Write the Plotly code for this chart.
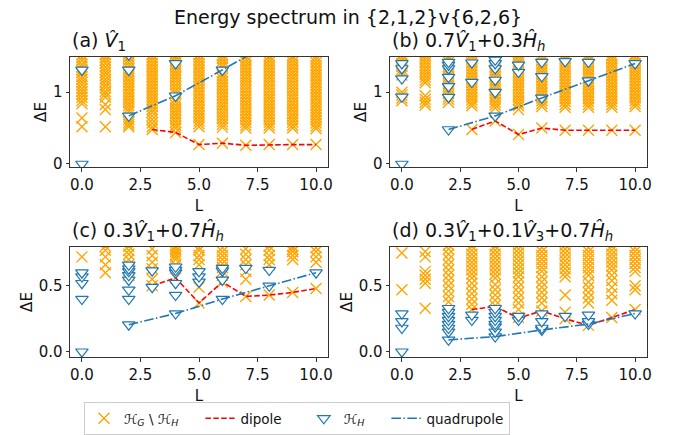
import plotly.graph_objects as go

# ---------------- data ----------------
x_tickvals = [0, 2.5, 5, 7.5, 10]
x_ticktext = ["0.0", "2.5", "5.0", "7.5", "10.0"]
y_top_ticks = [0, 1]
y_top_text = ["0", "1"]
y_bot_ticks = [0, 0.5]
y_bot_text = ["0.0", "0.5"]

# (a) V1 : orange crosses (H_G \ H_H) per L
bg_a = {
    0: [0.52, 0.64, 0.84, 0.88, 0.93, 0.97, 1.01, 1.05, 1.10, 1.14, 1.18, 1.22, 1.27, 1.31, 1.35, 1.39, 1.44, 1.48, 1.52],
    1: [0.52, 0.76, 0.83, 0.93, 0.97, 1.01, 1.06, 1.10, 1.14, 1.18, 1.23, 1.27, 1.31, 1.35, 1.40, 1.44, 1.48, 1.52],
    2: [0.52, 0.55, 0.58, 0.62, 0.73, 0.77, 0.81, 0.85, 0.89, 0.93, 0.97, 1.01, 1.05, 1.09, 1.13, 1.17, 1.21, 1.25, 1.29, 1.33, 1.37, 1.41, 1.45, 1.49, 1.53],
    3: [0.48, 0.52, 0.57, 0.62, 0.67, 0.72, 0.76, 0.80, 0.84, 0.88, 0.92, 0.96, 1.00, 1.04, 1.08, 1.12, 1.16, 1.20, 1.24, 1.28, 1.32, 1.36, 1.40, 1.44, 1.48, 1.52],
    4: [0.44, 0.50, 0.54, 0.58, 0.62, 0.66, 0.70, 0.74, 0.78, 0.82, 0.86, 0.90, 0.98, 1.02, 1.06, 1.10, 1.14, 1.18, 1.22, 1.26, 1.30, 1.34, 1.38, 1.42, 1.46, 1.50, 1.54],
    5: [0.27, 0.52, 0.56, 0.60, 0.64, 0.68, 0.72, 0.76, 0.80, 0.84, 0.88, 0.92, 0.96, 1.00, 1.04, 1.08, 1.12, 1.16, 1.20, 1.24, 1.28, 1.32, 1.36, 1.40, 1.44, 1.48, 1.52],
    6: [0.29, 0.51, 0.55, 0.59, 0.63, 0.67, 0.71, 0.75, 0.79, 0.83, 0.87, 0.91, 0.95, 0.99, 1.03, 1.07, 1.11, 1.15, 1.19, 1.23, 1.27, 1.35, 1.39, 1.43, 1.47, 1.51],
    7: [0.26, 0.50, 0.54, 0.58, 0.62, 0.66, 0.70, 0.74, 0.78, 0.82, 0.86, 0.90, 0.94, 0.98, 1.02, 1.06, 1.10, 1.14, 1.18, 1.22, 1.26, 1.30, 1.34, 1.38, 1.42, 1.46, 1.50],
    8: [0.27, 0.50, 0.54, 0.58, 0.62, 0.66, 0.70, 0.74, 0.78, 0.82, 0.86, 0.90, 0.94, 0.98, 1.02, 1.06, 1.10, 1.14, 1.18, 1.22, 1.26, 1.30, 1.34, 1.38, 1.42, 1.46, 1.50],
    9: [0.27, 0.50, 0.54, 0.58, 0.62, 0.66, 0.70, 0.74, 0.78, 0.82, 0.86, 0.90, 0.94, 0.98, 1.02, 1.06, 1.10, 1.14, 1.18, 1.22, 1.26, 1.30, 1.34, 1.38, 1.42, 1.46, 1.50],
    10: [0.27, 0.49, 0.53, 0.57, 0.61, 0.65, 0.69, 0.73, 0.77, 0.81, 0.85, 0.89, 0.93, 0.97, 1.01, 1.05, 1.09, 1.13, 1.17, 1.21, 1.25, 1.29, 1.33, 1.37, 1.41, 1.45, 1.49],
}
tri_a = {0: [0.0, 1.31], 2: [0.67, 1.31, 1.52], 4: [0.95, 1.40], 6: [1.31]}
dip_L = [3, 4, 5, 6, 7, 8, 9, 10]
dip_a = [0.48, 0.44, 0.27, 0.29, 0.26, 0.27, 0.27, 0.27]
quad_L = [2, 4, 6, 8, 10]
quad_a = [0.67, 0.95, 1.31, 1.69, 2.05]

# (b) 0.7 V1 + 0.3 Hh
bg_b = {
    0: [0.88, 0.92, 0.96, 1.00, 1.24, 1.28, 1.32, 1.36, 1.40, 1.44, 1.48, 1.52],
    1: [0.82, 0.86, 0.90, 0.95, 1.13, 1.17, 1.21, 1.25, 1.29, 1.33, 1.37, 1.41, 1.45, 1.49, 1.53],
    2: [0.86, 0.90, 0.94, 0.98, 1.02, 1.06, 1.10, 1.14, 1.18, 1.22, 1.26, 1.30, 1.34, 1.38, 1.42, 1.46, 1.50],
    3: [0.48, 0.81, 0.85, 0.89, 0.93, 0.97, 1.01, 1.05, 1.09, 1.13, 1.17, 1.21, 1.25, 1.29, 1.33, 1.37, 1.41, 1.45, 1.49, 1.53],
    4: [0.60, 0.78, 0.82, 0.86, 0.90, 0.94, 0.98, 1.02, 1.06, 1.10, 1.14, 1.18, 1.22, 1.26, 1.30, 1.34, 1.38, 1.42, 1.46, 1.50],
    5: [0.41, 0.76, 0.81, 0.85, 0.89, 0.93, 0.97, 1.01, 1.05, 1.09, 1.13, 1.17, 1.21, 1.25, 1.29, 1.33, 1.37, 1.41, 1.45, 1.49, 1.53],
    6: [0.50, 0.80, 0.84, 0.88, 0.92, 0.96, 1.00, 1.04, 1.08, 1.12, 1.16, 1.20, 1.24, 1.28, 1.32, 1.36, 1.40, 1.44, 1.48, 1.52],
    7: [0.47, 0.79, 0.83, 0.87, 0.91, 0.95, 0.99, 1.03, 1.07, 1.11, 1.15, 1.19, 1.23, 1.27, 1.31, 1.35, 1.39, 1.43, 1.47, 1.51],
    8: [0.47, 0.79, 0.83, 0.87, 0.91, 0.95, 0.99, 1.03, 1.07, 1.11, 1.15, 1.19, 1.23, 1.27, 1.31, 1.35, 1.39, 1.43, 1.47, 1.51],
    9: [0.47, 0.79, 0.83, 0.87, 0.91, 0.95, 0.99, 1.03, 1.07, 1.11, 1.15, 1.19, 1.23, 1.27, 1.31, 1.35, 1.39, 1.43, 1.47, 1.51],
    10: [0.47, 0.80, 0.84, 0.88, 0.92, 0.96, 1.00, 1.04, 1.08, 1.12, 1.16, 1.20, 1.24, 1.28, 1.32, 1.36, 1.40, 1.44, 1.48, 1.52],
}
tri_b = {0: [0.0, 0.935, 1.19, 1.33, 1.40], 2: [0.48, 0.93, 1.08, 1.21, 1.33, 1.38, 1.42],
         3: [1.14, 1.41], 4: [0.67, 1.0, 1.17, 1.33, 1.40, 1.45], 5: [1.28, 1.38],
         6: [0.92, 1.22, 1.42], 7: [1.43], 8: [1.16, 1.42], 10: [1.40]}
dip_b = [0.48, 0.60, 0.41, 0.50, 0.47, 0.47, 0.47, 0.47]
quad_b = [0.48, 0.67, 0.92, 1.16, 1.40]

# (c) 0.3 V1 + 0.7 Hh
bg_c = {
    0: [0.72],
    1: [0.60, 0.66, 0.72, 0.77, 0.80],
    2: [0.58, 0.62, 0.66, 0.70, 0.74, 0.77, 0.80],
    3: [0.50, 0.55, 0.63, 0.68, 0.73, 0.78],
    4: [0.56, 0.66, 0.70, 0.72, 0.74, 0.76, 0.78, 0.80],
    5: [0.37, 0.49, 0.66, 0.70, 0.73, 0.77, 0.79],
    6: [0.53, 0.58, 0.61, 0.64, 0.67, 0.70, 0.73, 0.76, 0.79],
    7: [0.42, 0.55, 0.61, 0.66, 0.70, 0.74, 0.78],
    8: [0.43, 0.66, 0.70, 0.73, 0.77, 0.80],
    9: [0.45, 0.70, 0.73, 0.76, 0.78, 0.80],
    10: [0.48, 0.68, 0.72, 0.76, 0.79],
}
tri_c = {0: [0.0, 0.40, 0.52, 0.57, 0.60], 2: [0.205, 0.40, 0.47, 0.545, 0.58, 0.61, 0.63, 0.66],
         3: [0.49, 0.615], 4: [0.29, 0.43, 0.52, 0.60, 0.62, 0.645], 5: [0.53, 0.57, 0.61],
         6: [0.40, 0.545, 0.615, 0.635], 7: [0.635], 8: [0.50, 0.62], 10: [0.60]}
dip_c = [0.50, 0.56, 0.37, 0.53, 0.42, 0.43, 0.45, 0.48]
quad_c = [0.205, 0.29, 0.40, 0.50, 0.60]

# (d) 0.3 V1 + 0.1 V3 + 0.7 Hh
bg_d = {
    0: [0.47, 0.75],
    1: [0.33, 0.52, 0.55, 0.58, 0.61, 0.72, 0.76],
    2: [0.38, 0.42, 0.46, 0.50, 0.54, 0.58, 0.62, 0.66, 0.70, 0.74, 0.78, 0.81],
    3: [0.32, 0.36, 0.40, 0.44, 0.48, 0.52, 0.56, 0.59, 0.62, 0.65, 0.68, 0.71, 0.74, 0.77, 0.80],
    4: [0.35, 0.39, 0.43, 0.47, 0.51, 0.56, 0.59, 0.62, 0.65, 0.68, 0.71, 0.74, 0.77, 0.80],
    5: [0.26, 0.32, 0.37, 0.41, 0.45, 0.49, 0.53, 0.57, 0.60, 0.63, 0.66, 0.69, 0.72, 0.75, 0.78, 0.81],
    6: [0.31, 0.37, 0.41, 0.45, 0.49, 0.53, 0.57, 0.61, 0.64, 0.67, 0.70, 0.73, 0.76, 0.79],
    7: [0.25, 0.30, 0.43, 0.57, 0.60, 0.63, 0.66, 0.69, 0.72, 0.75, 0.78, 0.81],
    8: [0.20, 0.37, 0.41, 0.45, 0.49, 0.53, 0.58, 0.61, 0.64, 0.67, 0.70, 0.73, 0.76, 0.79],
    9: [0.26, 0.39, 0.44, 0.49, 0.54, 0.58, 0.62, 0.65, 0.68, 0.71, 0.74, 0.77, 0.80],
    10: [0.32, 0.47, 0.50, 0.61, 0.64, 0.67, 0.70, 0.73, 0.76, 0.79],
}
tri_d = {0: [0.0, 0.18, 0.23, 0.29], 2: [0.09, 0.15, 0.18, 0.21, 0.24, 0.27, 0.30, 0.33],
         3: [0.24, 0.28], 4: [0.115, 0.15, 0.19, 0.21, 0.24, 0.27, 0.30, 0.33], 5: [0.24, 0.27],
         6: [0.165, 0.18, 0.23, 0.29], 7: [0.27], 8: [0.21, 0.23, 0.28], 10: [0.29]}
dip_d = [0.32, 0.345, 0.255, 0.31, 0.25, 0.20, 0.26, 0.32]
quad_d = [0.09, 0.115, 0.165, 0.21, 0.29]

titles = ["(a) <i>V̂</i><sub>1</sub>",
          "(b) 0.7<i>V̂</i><sub>1</sub>+0.3<i>Ĥ</i><sub><i>h</i></sub>",
          "(c) 0.3<i>V̂</i><sub>1</sub>+0.7<i>Ĥ</i><sub><i>h</i></sub>",
          "(d) 0.3<i>V̂</i><sub>1</sub>+0.1<i>V̂</i><sub>3</sub>+0.7<i>Ĥ</i><sub><i>h</i></sub>"]
legend_names = ["<i>ℋ</i><sub><i>G</i></sub> \\ <i>ℋ</i><sub><i>H</i></sub>", "dipole",
                "<i>ℋ</i><sub><i>H</i></sub>", "quadrupole"]

# ---------------- figure ----------------
ORANGE = "#FFA500"
BLUE = "#1f77b4"
FONT = "DejaVu Sans"
PAD = "&nbsp;" * 4

def flatten(d):
    xs, ys = [], []
    for L, vals in d.items():
        for v in vals:
            xs.append(L)
            ys.append(v)
    return xs, ys

panels = [(bg_a, tri_a, dip_a, quad_a), (bg_b, tri_b, dip_b, quad_b),
          (bg_c, tri_c, dip_c, quad_c), (bg_d, tri_d, dip_d, quad_d)]

fig = go.Figure()
for i, (bg, tri, dip, quad) in enumerate(panels):
    xr = "x" if i == 0 else f"x{i+1}"
    yr = "y" if i == 0 else f"y{i+1}"
    show = i == 0
    bx, by = flatten(bg)
    fig.add_trace(go.Scatter(x=bx, y=by, mode="markers", xaxis=xr, yaxis=yr,
                             name=legend_names[0] + PAD, legendgroup="bg", showlegend=show,
                             marker=dict(symbol="x-thin", size=11, color=ORANGE,
                                         line=dict(color=ORANGE, width=1.4))))
    fig.add_trace(go.Scatter(x=dip_L, y=dip, mode="lines", xaxis=xr, yaxis=yr,
                             name=legend_names[1] + PAD, legendgroup="dip", showlegend=show,
                             line=dict(color="red", width=1.6, dash="5.5px,2.4px")))
    tx, ty = flatten(tri)
    fig.add_trace(go.Scatter(x=tx, y=ty, mode="markers", xaxis=xr, yaxis=yr,
                             name=legend_names[2] + PAD, legendgroup="tri", showlegend=show,
                             marker=dict(symbol="triangle-down", size=11, color="white",
                                         line=dict(color=BLUE, width=1.2))))
    fig.add_trace(go.Scatter(x=quad_L, y=quad, mode="lines", xaxis=xr, yaxis=yr,
                             name=legend_names[3], legendgroup="quad", showlegend=show,
                             line=dict(color=BLUE, width=1.6, dash="9.6px,2.4px,1.5px,2.4px")))

W, H = 673, 435
xdom = [[70 / W, 328 / W], [390 / W, 647 / W]]
ydom = [[1 - 167 / H, 1 - 57 / H], [1 - 357 / H, 1 - 247 / H]]

axis_common = dict(showline=True, linecolor="#333333", linewidth=1, mirror=True,
                   ticks="outside", ticklen=3.5, tickwidth=0.9, tickcolor="#333333",
                   showgrid=False, zeroline=False, automargin=False,
                   tickfont=dict(family=FONT, size=15, color="#111111"))

layout = dict(width=W, height=H, margin=dict(l=0, r=0, t=0, b=0, autoexpand=False),
              paper_bgcolor="white", plot_bgcolor="white",
              font=dict(family=FONT, size=15, color="#111111"))

for i in range(4):
    r, c = divmod(i, 2)
    xk = "xaxis" if i == 0 else f"xaxis{i+1}"
    yk = "yaxis" if i == 0 else f"yaxis{i+1}"
    ya = "y" if i == 0 else f"y{i+1}"
    xa = "x" if i == 0 else f"x{i+1}"
    layout[xk] = dict(axis_common, domain=xdom[c], anchor=ya, range=[-0.51, 10.51],
                      tickvals=x_tickvals, ticktext=x_ticktext,
                      title=dict(text="L", font=dict(family=FONT, size=15), standoff=7))
    if r == 0:
        yr_, tv, tt = [-0.042, 1.49], y_top_ticks, y_top_text
    else:
        yr_, tv, tt = [-0.04, 0.795], y_bot_ticks, y_bot_text
    layout[yk] = dict(axis_common, domain=ydom[r], anchor=xa, range=yr_,
                      tickvals=tv, ticktext=tt,
                      title=dict(text="ΔE", font=dict(family=FONT, size=15), standoff=2))

annotations = [dict(text="Energy spectrum in {2,1,2}v{6,2,6}", x=348 / W, y=1 - 17 / H,
                    xref="paper", yref="paper", xanchor="center", yanchor="middle",
                    showarrow=False, font=dict(family=FONT, size=19, color="#111111"))]
for i in range(4):
    xa = "x" if i == 0 else f"x{i+1}"
    ya = "y" if i == 0 else f"y{i+1}"
    annotations.append(dict(text=titles[i], xref=f"{xa} domain", yref=f"{ya} domain",
                            x=0, y=1, xanchor="left", yanchor="bottom", yshift=1,
                            showarrow=False, font=dict(family=FONT, size=19, color="#111111")))
layout["annotations"] = annotations
layout["legend"] = dict(orientation="h", x=84 / W, y=1 - 402 / H, xanchor="left", yanchor="top",
                        bordercolor="#cccccc", borderwidth=1, bgcolor="white",
                        font=dict(family=FONT, size=13.5, color="#111111"))
fig.update_layout(**layout)
fig.write_html("out.html")
